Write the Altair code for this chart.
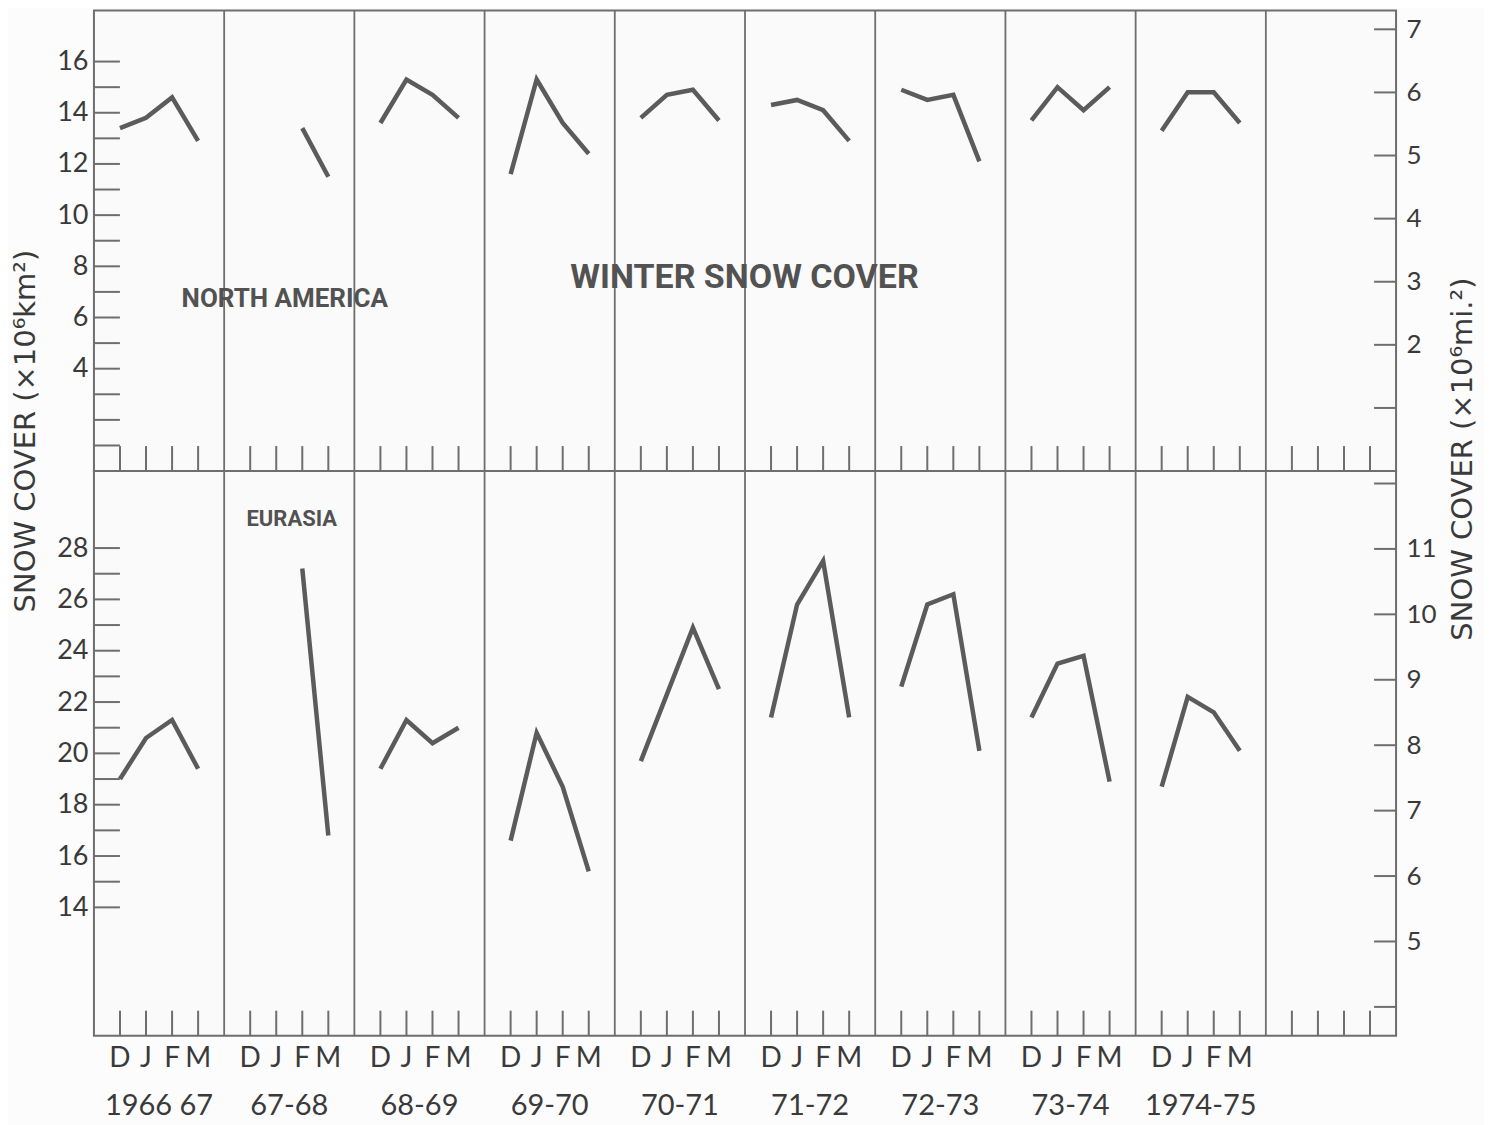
import altair as alt
import pandas as pd

# ---------------- data ----------------
seasons = ["1966 67", "67-68", "68-69", "69-70", "70-71", "71-72", "72-73", "73-74", "1974-75"]
months = ["D", "J", "F", "M"]

# North America winter snow cover (x10^6 km^2), D J F M per season (None = no data)
na_values = [
    [13.4, 13.8, 14.6, 12.9],
    [None, None, 13.4, 11.5],
    [13.6, 15.3, 14.7, 13.8],
    [11.6, 15.3, 13.6, 12.4],
    [13.8, 14.7, 14.9, 13.7],
    [14.3, 14.5, 14.1, 12.9],
    [14.9, 14.5, 14.7, 12.1],
    [13.7, 15.0, 14.1, 15.0],
    [13.3, 14.8, 14.8, 13.6],
]
# Eurasia winter snow cover (x10^6 km^2)
eu_values = [
    [19.0, 20.6, 21.3, 19.4],
    [None, None, 27.2, 16.8],
    [19.4, 21.3, 20.4, 21.0],
    [16.6, 20.8, 18.7, 15.4],
    [19.7, 22.3, 24.9, 22.5],
    [21.4, 25.8, 27.5, 21.4],
    [22.6, 25.8, 26.2, 20.1],
    [21.4, 23.5, 23.8, 18.9],
    [18.7, 22.2, 21.6, 20.1],
]

n_groups = 10  # last column is empty

km_ticks_top = list(range(1, 17))
km_labels_top = [4, 6, 8, 10, 12, 14, 16]
km_ticks_bot = list(range(14, 29))
km_labels_bot = [14, 16, 18, 20, 22, 24, 26, 28]
mi_ticks_top = [1, 2, 3, 4, 5, 6, 7]
mi_labels_top = [2, 3, 4, 5, 6, 7]
mi_ticks_bot = [4, 5, 6, 7, 8, 9, 10, 11, 12]
mi_labels_bot = [5, 6, 7, 8, 9, 10, 11]

left_title = "SNOW COVER (×10⁶km²)"
right_title = "SNOW COVER (×10⁶mi.²)"

# ---------------- style / layout ----------------
W = 1303
H_TOP = 461
H_BOT = 565
LINE = "#5b5b5b"
FRAME = "#6e6e6e"
TXT = "#3a3a3a"
FONT = "Lato"
TFONT = "DejaVu Sans"
BOLD = "Roboto"

xscale = alt.Scale(domain=[0, 5 * n_groups], nice=False, zero=False)


def month_pos(g, m):
    return 5 * g + 1 + m


def series_df(values):
    rows = []
    for g, vals in enumerate(values):
        for m, v in enumerate(vals):
            if v is not None:
                rows.append({"season": seasons[g], "month": months[m], "x": month_pos(g, m), "v": v})
    return pd.DataFrame(rows)


def text_layer(t, px, py, size, font, weight, color, angle=0):
    return alt.Chart(pd.DataFrame({"t": [t]})).mark_text(
        font=font, fontSize=size, fontWeight=weight, color=color,
        align="center", baseline="middle", angle=angle,
    ).encode(text="t:N", x=alt.value(px), y=alt.value(py))


def panel(values, km_domain, km_ticks, km_labels, mi_domain, mi_ticks, mi_labels, H,
          bottom, texts, titles=False):
    yscale = alt.Scale(domain=km_domain, nice=False, zero=False)

    lines = alt.Chart(series_df(values)).mark_line(
        color=LINE, strokeWidth=4.5, strokeJoin="miter", strokeCap="butt"
    ).encode(
        x=alt.X("x:Q", scale=xscale, axis=None),
        y=alt.Y("v:Q", scale=yscale, axis=None),
        detail="season:N",
    )

    left_ticks = alt.Chart(pd.DataFrame({"v": km_ticks})).mark_rule(
        color=FRAME, strokeWidth=2
    ).encode(
        y=alt.Y("v:Q", scale=yscale, axis=alt.Axis(
            orient="left", values=km_labels, tickSize=0, ticks=False, domain=False, grid=False,
            labelFont=FONT, labelFontSize=27, labelColor=TXT, labelPadding=6, title=None,
        )),
        x=alt.value(0),
        x2=alt.value(26),
    )

    all_month_pos = [month_pos(g, m) for g in range(n_groups) for m in range(4)]
    bottom_ticks = alt.Chart(pd.DataFrame({"x": all_month_pos})).mark_rule(
        color=FRAME, strokeWidth=2
    ).encode(
        x=alt.X("x:Q", scale=xscale, axis=None),
        y=alt.value(H),
        y2=alt.value(H - 25),
    )

    seps = alt.Chart(pd.DataFrame({"x": [5 * g for g in range(1, n_groups)]})).mark_rule(
        color=FRAME, strokeWidth=1.8
    ).encode(
        x=alt.X("x:Q", scale=xscale, axis=None),
        y=alt.value(0),
        y2=alt.value(H),
    )

    right = alt.Chart(pd.DataFrame({"m": mi_ticks})).mark_rule(
        color=FRAME, strokeWidth=2
    ).encode(
        y=alt.Y("m:Q", scale=alt.Scale(domain=mi_domain, nice=False, zero=False),
                axis=alt.Axis(
                    orient="right", values=mi_labels, tickSize=0, ticks=False, domain=False,
                    grid=False, labelFont=FONT, labelFontSize=26, labelColor=TXT,
                    labelPadding=10, title=None,
                )),
        x=alt.value(W - 22),
        x2=alt.value(W),
    )

    layers = [seps, bottom_ticks, lines, left_ticks, right]
    for (t, px, py, size) in texts:
        layers.append(text_layer(t, px, py, size, BOLD, "bold", "#525252"))
    if titles:
        layers.append(text_layer(left_title, -68, 421, 29, TFONT, "normal", TXT, angle=270))
        layers.append(text_layer(right_title, W + 67, 449, 29, TFONT, "normal", TXT, angle=270))
    if bottom:
        mdf = pd.DataFrame([
            {"m": months[m], "x": month_pos(g, m)}
            for g in range(len(seasons)) for m in range(4)
        ])
        layers.append(
            alt.Chart(mdf).mark_text(
                font=FONT, fontSize=28, color=TXT, align="center", baseline="middle"
            ).encode(
                x=alt.X("x:Q", scale=xscale, axis=None),
                y=alt.value(H + 23),
                text="m:N",
            )
        )
        sdf = pd.DataFrame({"s": seasons, "x": [5 * g + 2.5 for g in range(len(seasons))]})
        layers.append(
            alt.Chart(sdf).mark_text(
                font=FONT, fontSize=29, color=TXT, align="center", baseline="middle"
            ).encode(
                x=alt.X("x:Q", scale=xscale, axis=None),
                y=alt.value(H + 70),
                text="s:N",
            )
        )
    return alt.layer(*layers).resolve_scale(y="independent").properties(width=W, height=H)


top = panel(
    na_values, [0, 18], km_ticks_top, km_labels_top, [0, 7.3], mi_ticks_top, mi_labels_top,
    H_TOP, False,
    [("NORTH AMERICA", 191, 289, 26), ("WINTER SNOW COVER", 651, 268, 34)],
    titles=True,
)
bottom = panel(
    eu_values, [9, 31], km_ticks_bot, km_labels_bot, [3.56, 12.19], mi_ticks_bot, mi_labels_bot,
    H_BOT, True,
    [("EURASIA", 198, 48, 22)],
)

chart = alt.vconcat(top, bottom, spacing=0).properties(
    bounds="flush",
    padding={"left": 3, "top": 0, "right": 5, "bottom": 5},
    background="#fcfcfc",
).configure_view(stroke=FRAME, strokeWidth=2, fill="#fafafa")

chart.save("out.html", embed_options={"renderer": "svg", "actions": False})
